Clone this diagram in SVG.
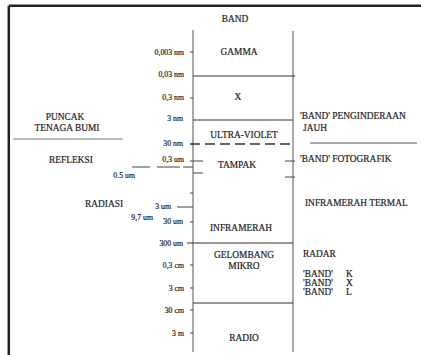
<svg xmlns="http://www.w3.org/2000/svg" width="421" height="355" viewBox="0 0 421 355">
<style>
text{font-family:"Liberation Serif","Times New Roman",serif;fill:#222;stroke:#222;stroke-width:0.2}
.c{font-size:9.4px}
.u{font-size:7.8px;text-anchor:end}
.m{text-anchor:middle}
.ax{stroke:#555;stroke-width:1;fill:none}
.hl{stroke:#333;stroke-width:1.2;fill:none}
.dash{stroke:#333;stroke-width:1.3;stroke-dasharray:10 5;fill:none}
.tk{stroke:#444;stroke-width:1.1;fill:none}
</style>
<rect width="421" height="355" fill="#fff"/>
<g id="frame">
<line x1="8.8" y1="5.8" x2="421" y2="5.8" stroke="#222" stroke-width="2.5"/>
<line x1="8.8" y1="5.8" x2="8.8" y2="355" stroke="#222" stroke-width="2.5"/>
</g>
<g id="connectors">
<line class="ax" x1="193" y1="30" x2="193" y2="352"/>
<line class="ax" x1="293" y1="31" x2="293" y2="352"/>
<line class="hl" x1="193" y1="76" x2="295" y2="76"/>
<line class="hl" x1="193" y1="120" x2="293" y2="120"/>
<line class="dash" x1="190" y1="144" x2="293" y2="144"/>
<line class="hl" x1="187" y1="243" x2="293" y2="243"/>
<line class="hl" x1="193" y1="303" x2="293" y2="303"/>
<path class="tk" d="M190 52H193M190 98H193M190 161H203M193 173H203M190 193H193M177 207H193M190 222H193M190 265H193M190 288H193M190 310H193M190 333H193M285 161H295M285 177H295"/>
<path class="tk" d="M132 167H150M157 167H180M183 167H193"/>
<line x1="13" y1="139" x2="123" y2="139" stroke="#777" stroke-width="1"/>
<line x1="310" y1="143" x2="417" y2="143" stroke="#555" stroke-width="1"/>
</g>
<g id="band-title"><text class="c m" x="235" y="22">BAND</text></g>
<g id="gamma"><text class="c m" x="239" y="55">GAMMA</text></g>
<g id="x-ray"><text class="c m" x="238" y="100">X</text></g>
<g id="ultraviolet"><text class="c m" x="244" y="138">ULTRA-VIOLET</text></g>
<g id="tampak"><text class="c m" x="237" y="168">TAMPAK</text></g>
<g id="inframerah"><text class="c m" x="241" y="231">INFRAMERAH</text></g>
<g id="gelombang-mikro"><text class="c m" x="244" y="258">GELOMBANG</text><text class="c m" x="244" y="269">MIKRO</text></g>
<g id="radio"><text class="c m" x="244" y="341">RADIO</text></g>
<g id="scale">
<text class="u" x="184" y="55">0,003 nm</text>
<text class="u" x="184" y="77">0,03 nm</text>
<text class="u" x="184" y="100">0,3 nm</text>
<text class="u" x="183" y="121">3 nm</text>
<text class="u" x="183" y="146">30 nm</text>
<text class="u" x="184" y="162">0,3 um</text>
<text class="u" x="135" y="178">0.5 um</text>
<text class="u" x="171" y="209">3 um</text>
<text class="u" x="153" y="220">9,7 um</text>
<text class="u" x="183" y="224">30 um</text>
<text class="u" x="183" y="246">300 um</text>
<text class="u" x="184" y="268">0,3 cm</text>
<text class="u" x="184" y="291">3 cm</text>
<text class="u" x="184" y="313">30 cm</text>
<text class="u" x="184" y="336">3 m</text>
</g>
<g id="puncak"><text class="c m" x="65" y="120">PUNCAK</text><text class="c m" x="67" y="131">TENAGA BUMI</text></g>
<g id="refleksi"><text class="c m" x="71" y="163">REFLEKSI</text></g>
<g id="radiasi"><text class="c m" x="104" y="207">RADIASI</text></g>
<g id="penginderaan"><text class="c" x="300" y="119">'BAND' PENGINDERAAN</text><text class="c" x="303" y="131">JAUH</text></g>
<g id="fotografik"><text class="c" x="300" y="162">'BAND' FOTOGRAFIK</text></g>
<g id="termal"><text class="c" x="305" y="206">INFRAMERAH TERMAL</text></g>
<g id="radar">
<text class="c" x="303" y="257">RADAR</text>
<text class="c" x="303" y="277">'BAND'</text><text class="c" x="346" y="277">K</text>
<text class="c" x="303" y="286">'BAND'</text><text class="c" x="346" y="286">X</text>
<text class="c" x="303" y="295">'BAND'</text><text class="c" x="346" y="295">L</text>
</g>
</svg>
